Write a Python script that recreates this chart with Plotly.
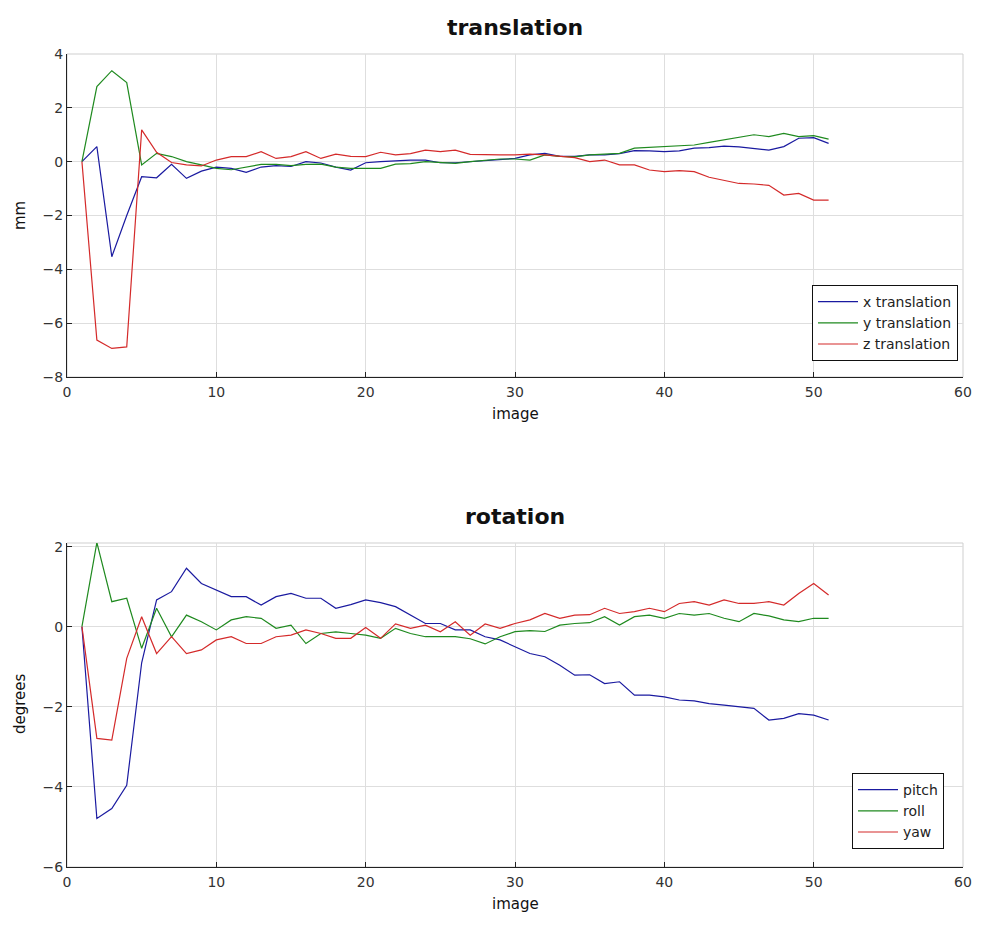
import plotly.graph_objects as go

images = list(range(1, 52))

x_translation = [0, 0.56, -3.53, -2.0, -0.56, -0.6, -0.1, -0.62, -0.35, -0.2,
                 -0.25, -0.4, -0.2, -0.15, -0.18, 0.0, -0.05, -0.2, -0.31, -0.04,
                 0.0, 0.04, 0.06, 0.06, -0.04, -0.04, 0.0, 0.06, 0.08, 0.12,
                 0.25, 0.31, 0.2, 0.2, 0.25, 0.25, 0.3, 0.41, 0.4, 0.37,
                 0.4, 0.5, 0.52, 0.58, 0.55, 0.5, 0.43, 0.56, 0.87, 0.89, 0.68]
y_translation = [0, 2.79, 3.38, 2.94, -0.12, 0.31, 0.19, 0.0, -0.12, -0.25,
                 -0.3, -0.2, -0.1, -0.1, -0.15, -0.1, -0.09, -0.2, -0.25, -0.25,
                 -0.25, -0.09, -0.07, 0.0, -0.04, -0.06, 0.0, 0.04, 0.1, 0.1,
                 0.06, 0.25, 0.2, 0.18, 0.25, 0.28, 0.31, 0.5, 0.53, 0.56,
                 0.58, 0.62, 0.72, 0.82, 0.9, 1.0, 0.93, 1.05, 0.93, 0.97, 0.84]
z_translation = [0, -6.63, -6.94, -6.88, 1.18, 0.35, -0.03, -0.12, -0.16, 0.06,
                 0.19, 0.19, 0.37, 0.12, 0.19, 0.37, 0.12, 0.28, 0.2, 0.19,
                 0.35, 0.25, 0.3, 0.43, 0.37, 0.43, 0.27, 0.25, 0.25, 0.25,
                 0.28, 0.25, 0.2, 0.15, 0.0, 0.06, -0.12, -0.12, -0.31, -0.37,
                 -0.33, -0.37, -0.58, -0.7, -0.81, -0.83, -0.88, -1.24, -1.18, -1.43, -1.43]

pitch = [0, -4.79, -4.54, -3.96, -0.9, 0.67, 0.875, 1.46, 1.08, 0.92,
         0.75, 0.75, 0.54, 0.75, 0.83, 0.71, 0.71, 0.46, 0.55, 0.67,
         0.6, 0.5, 0.3, 0.08, 0.08, -0.08, -0.08, -0.25, -0.33, -0.5,
         -0.67, -0.75, -0.96, -1.21, -1.2, -1.42, -1.375, -1.71, -1.71, -1.75,
         -1.83, -1.85, -1.92, -1.96, -2.0, -2.04, -2.33, -2.29, -2.17, -2.21, -2.33]
roll = [0, 2.1, 0.625, 0.71, -0.54, 0.46, -0.25, 0.29, 0.125, -0.08,
        0.17, 0.25, 0.21, -0.04, 0.04, -0.42, -0.17, -0.13, -0.17, -0.21,
        -0.29, -0.04, -0.17, -0.25, -0.25, -0.25, -0.3, -0.43, -0.25, -0.125,
        -0.1, -0.12, 0.04, 0.08, 0.1, 0.25, 0.04, 0.25, 0.29, 0.21,
        0.33, 0.29, 0.33, 0.21, 0.125, 0.33, 0.27, 0.17, 0.125, 0.21, 0.21]
yaw = [0, -2.79, -2.83, -0.79, 0.25, -0.67, -0.25, -0.67, -0.58, -0.33,
       -0.25, -0.42, -0.42, -0.25, -0.21, -0.08, -0.17, -0.29, -0.29, -0.02,
       -0.29, 0.07, -0.04, 0.04, -0.125, 0.125, -0.21, 0.07, -0.04, 0.08,
       0.17, 0.33, 0.21, 0.29, 0.3, 0.46, 0.33, 0.375, 0.46, 0.375,
       0.58, 0.625, 0.54, 0.67, 0.58, 0.58, 0.625, 0.54, 0.83, 1.08, 0.79]

top_names = ["x translation", "y translation", "z translation"]
bottom_names = ["pitch", "roll", "yaw"]
colors = ["#1a1aa0", "#1f8a1f", "#d42a2a"]

FONT = "DejaVu Sans"
fig = go.Figure()
for name, vals, c in zip(top_names, [x_translation, y_translation, z_translation], colors):
    fig.add_trace(go.Scatter(x=images, y=vals, mode="lines", name=name,
                             line=dict(color=c, width=1.2), xaxis="x", yaxis="y",
                             legend="legend"))
for name, vals, c in zip(bottom_names, [pitch, roll, yaw], colors):
    fig.add_trace(go.Scatter(x=images, y=vals, mode="lines", name=name,
                             line=dict(color=c, width=1.2), xaxis="x2", yaxis="y2",
                             legend="legend2"))

# page body has an 8px margin: figure is drawn at offset (8, 8)
OFF = 8
W, H = 987 - OFF * 2, 927 - OFF * 2
L = 67 - OFF
R = (987 - OFF) - 963 - OFF * 0
PW = W - L - R

def fx(px):
    return (px - OFF - L) / PW

def fy(py):
    return 1 - (py - OFF) / H

top_dom = [fy(377), fy(54)]
bot_dom = [fy(867), fy(543)]

axis_common = dict(showgrid=True, gridcolor="#dedede", gridwidth=1,
                   showline=True, linecolor="#222222", linewidth=1, mirror=False,
                   ticks="inside", ticklen=5, tickcolor="#222222",
                   tickfont=dict(family=FONT, size=14, color="#333333"),
                   zeroline=False, automargin=False)

fig.update_layout(
    width=W, height=H,
    margin=dict(l=L, r=R, t=0, b=0, autoexpand=False),
    paper_bgcolor="white", plot_bgcolor="white",
    font=dict(family=FONT, color="#222222"),
    xaxis=dict(domain=[0, 1], range=[0, 60], dtick=10, anchor="y", ticklabelstandoff=2, **axis_common),
    yaxis=dict(domain=top_dom, range=[-8, 4], dtick=2, anchor="x", **axis_common),
    xaxis2=dict(domain=[0, 1], range=[0, 60], dtick=10, anchor="y2", ticklabelstandoff=2, **axis_common),
    yaxis2=dict(domain=bot_dom, range=[-6, 2.09], tickvals=[-6, -4, -2, 0, 2], anchor="x2",
                **axis_common),
    legend=dict(x=fx(958), y=fy(285), xanchor="right", yanchor="top",
                bordercolor="#111111", borderwidth=1, bgcolor="white",
                font=dict(family=FONT, size=14, color="#222222"),
                tracegroupgap=0, itemwidth=40),
    legend2=dict(x=fx(944), y=fy(773), xanchor="right", yanchor="top",
                 bordercolor="#111111", borderwidth=1, bgcolor="white",
                 font=dict(family=FONT, size=14, color="#222222"),
                 tracegroupgap=0, itemwidth=40),
    showlegend=True,
)

for xr, yr in [("x", "y"), ("x2", "y2")]:
    fig.add_shape(type="rect", xref=f"{xr} domain", yref=f"{yr} domain",
                  x0=0, x1=1, y0=0, y1=1, line=dict(color="#cfcfcf", width=1), layer="below")

def px_ann(text, px, py, size, angle=0):
    fig.add_annotation(text=text, x=fx(px), y=fy(py), xref="paper", yref="paper",
                       showarrow=False, textangle=angle, xanchor="center", yanchor="middle",
                       font=dict(family=FONT, size=size, color="#111111"))

px_ann("<b>translation</b>", 515, 28, 22)
px_ann("<b>rotation</b>", 515, 516, 22)
px_ann("image", 515, 414, 15)
px_ann("image", 515, 904, 15)
px_ann("mm", 20, 216, 15, -90)
px_ann("degrees", 20, 704, 15, -90)

fig.write_html("out.html")
